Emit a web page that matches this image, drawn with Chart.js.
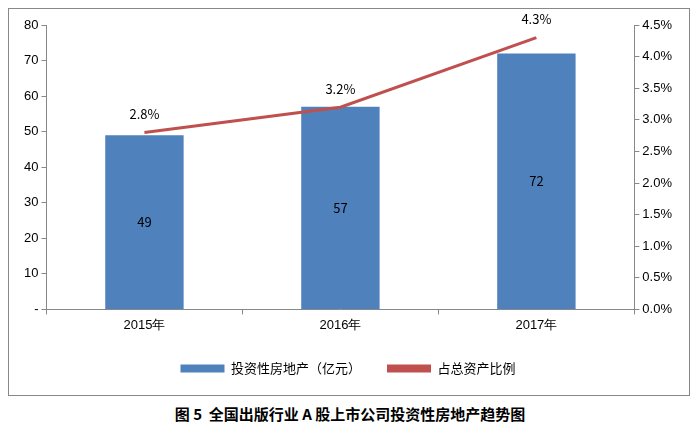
<!DOCTYPE html>
<html>
<head>
<meta charset="utf-8">
<script src="https://cdn.jsdelivr.net/npm/chart.js@4"></script>
<style>
body { margin: 0; background: #fff; font-family: "Noto Sans CJK SC", sans-serif; }
#frame { position: absolute; left: 8px; top: 8px; width: 682px; height: 388px; border: 1px solid #888; box-sizing: border-box; }
#wrap { position: absolute; left: 0; top: 0; width: 680px; height: 386px; }
#title { position: absolute; left: 0; top: 403px; width: 700px; text-align: center; font-size: 15px; font-weight: bold; color: #000; }
</style>
</head>
<body>
<div id="frame"><div id="wrap"><canvas id="c"></canvas></div></div>
<div id="title">图 5&nbsp; 全国出版行业 A 股上市公司投资性房地产趋势图</div>
<script>
// 数据
const categories = ['2015年', '2016年', '2017年'];
const realEstate = [49, 57, 72];      // 投资性房地产(亿元)
const assetRatio = [2.8, 3.2, 4.3];   // 占总资产比例(%)
const leftTicks = [0, 10, 20, 30, 40, 50, 60, 70, 80];

// 数据标签插件
Chart.register({
    id: 'valueLabels',
    afterDatasetsDraw: function(chart) {
        const ctx = chart.ctx;
        ctx.save();
        ctx.font = '13px "Noto Sans CJK SC", sans-serif';
        ctx.fillStyle = '#000';
        ctx.textAlign = 'center';
        chart.getDatasetMeta(1).data.forEach(function(bar, i) {
            ctx.textBaseline = 'middle';
            ctx.fillText(realEstate[i], bar.x, (bar.y + bar.base) / 2);
        });
        chart.getDatasetMeta(0).data.forEach(function(pt, i) {
            ctx.textBaseline = 'bottom';
            ctx.fillText(assetRatio[i].toFixed(1) + '%', pt.x, pt.y - 12);
        });
        ctx.restore();
    }
});

const tickGrid = { display: true, drawOnChartArea: false, drawTicks: true, tickLength: 5, color: '#888' };

new Chart(document.getElementById('c').getContext('2d'), {
    data: {
        labels: categories,
        datasets: [
            {
                type: 'line', label: '占总资产比例', data: assetRatio, yAxisID: 'y1',
                borderColor: '#C0504D', backgroundColor: '#C0504D', borderWidth: 3,
                pointRadius: 0, tension: 0, order: 0
            },
            {
                type: 'bar', label: '投资性房地产（亿元）', data: realEstate, yAxisID: 'y',
                backgroundColor: '#4F81BD', barPercentage: 0.4, categoryPercentage: 1, order: 1
            }
        ]
    },
    options: {
        responsive: true,
        maintainAspectRatio: false,
        animation: false,
        layout: { padding: { top: 16, right: 14, left: 12, bottom: 10 } },
        plugins: {
            legend: {
                position: 'bottom', reverse: true,
                labels: {
                    color: '#000', font: { size: 13, family: '"Noto Sans CJK SC", sans-serif' },
                    boxWidth: 44, boxHeight: 8, padding: 26,
                    generateLabels: function(chart) {
                        return chart.data.datasets.map(function(ds, i) {
                            return { text: ds.label, fillStyle: ds.backgroundColor, strokeStyle: ds.backgroundColor,
                                     lineWidth: 0, datasetIndex: i };
                        });
                    }
                }
            },
            tooltip: { enabled: false }
        },
        scales: {
            x: {
                grid: tickGrid,
                border: { color: '#888' },
                ticks: { color: '#000', font: { size: 13 } }
            },
            y: {
                position: 'left', min: 0, max: 80, afterBuildTicks: function(a) { a.ticks = leftTicks.map(v => ({ value: v })); },
                grid: tickGrid,
                border: { color: '#888' },
                ticks: { color: '#000', font: { size: 13 }, callback: v => v === 0 ? '-' : v }
            },
            y1: {
                position: 'right', min: 0, max: 4.5,
                grid: tickGrid,
                border: { color: '#888' },
                ticks: { stepSize: 0.5, color: '#000', font: { size: 13 }, callback: v => v.toFixed(1) + '%' }
            }
        }
    }
});
</script>
</body>
</html>
